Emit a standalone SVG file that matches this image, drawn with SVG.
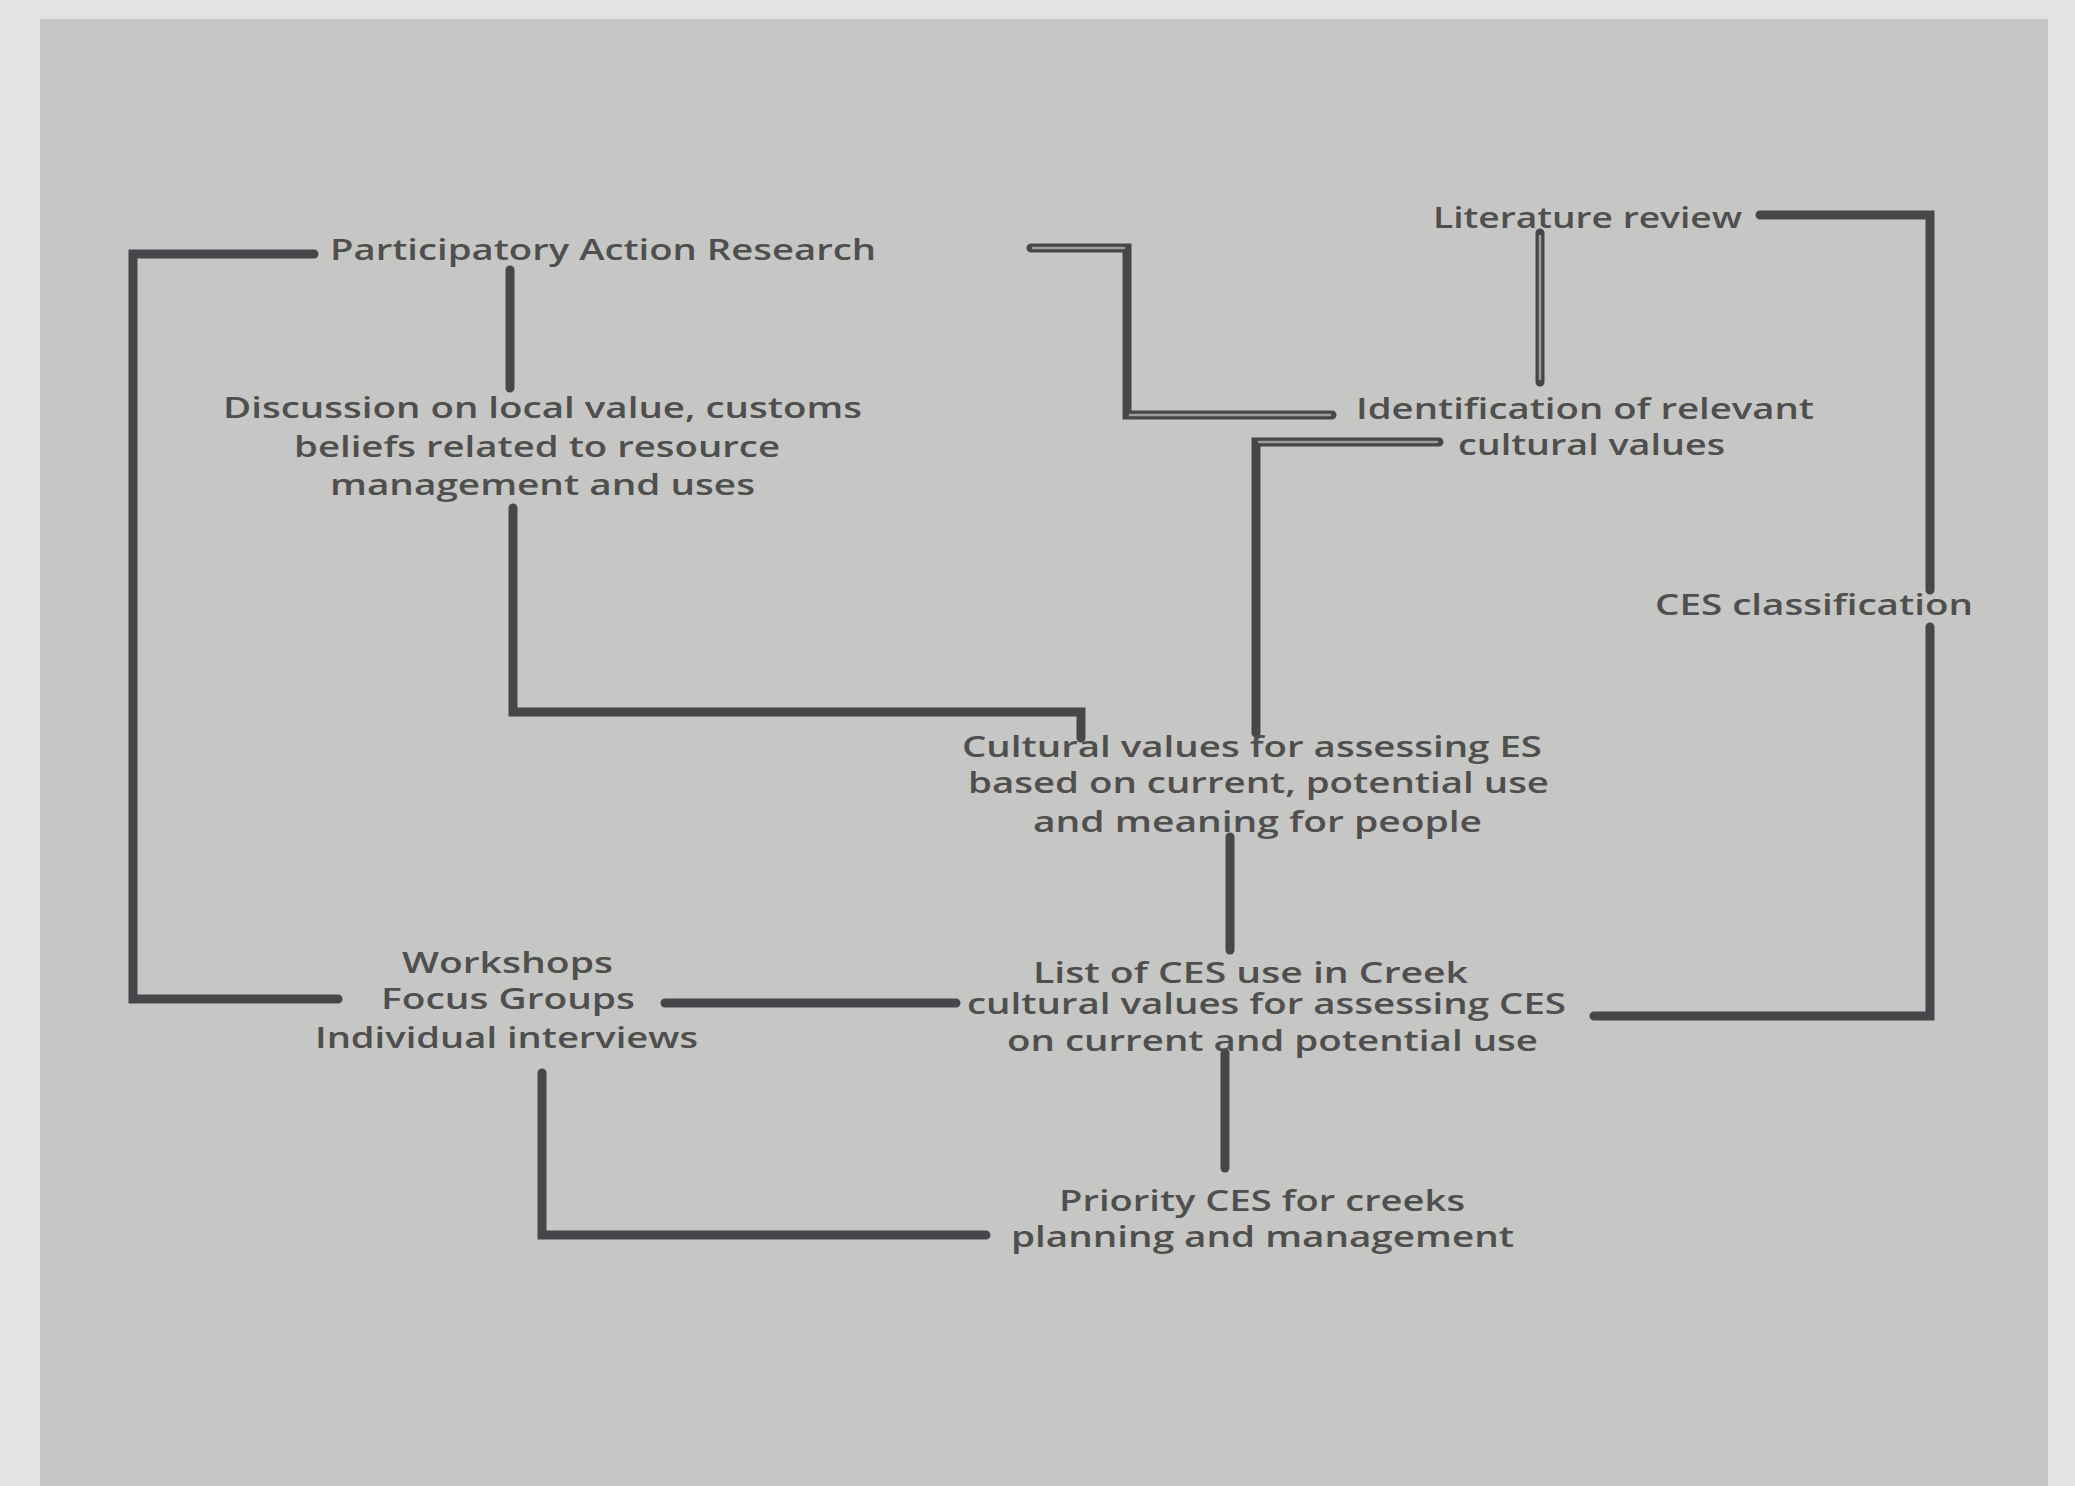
<svg xmlns="http://www.w3.org/2000/svg" width="2075" height="1486" viewBox="0 0 2075 1486">
<style>
.t{font-family:"Open Sans","Noto Sans","Liberation Sans",sans-serif;font-size:29.5px;font-weight:600;fill:#4f4f4f;}
.c{fill:none;stroke:#45474b;stroke-width:9;stroke-linecap:round;stroke-linejoin:miter;}
.h{fill:none;stroke:#9c9d9e;stroke-width:2.5;stroke-linecap:round;}
</style>
<rect x="0" y="0" width="2075" height="1486" fill="#e3e3e3"/>
<rect x="40" y="19" width="2008" height="1467" fill="#c6c6c4"/>
<g id="connectors">
<path class="c" d="M314 254 H133 V999 H338"/>
<path class="c" d="M510 270 V388"/>
<path class="c" d="M513 508 V712 H1081 V738"/>
<path class="c" d="M1760 215 H1930 V590"/>
<path class="c" d="M1930 627 V1016 H1594"/>
<path class="c" d="M1230 837 V950"/>
<path class="c" d="M1225 1053 V1168"/>
<path class="c" d="M665 1003 H956"/>
<path class="c" d="M542 1073 V1235 H986"/>
<path class="c" d="M1031 248 H1127 V415 H1332"/>
<path class="h" d="M1033 248 H1124"/>
<path class="h" d="M1130 415 H1330"/>
<path class="c" d="M1540 233 V382"/>
<path class="h" d="M1540 236 V379"/>
<path class="c" d="M1439 442 H1256 V733"/>
<path class="h" d="M1437 442 H1259"/>
</g>
<g id="n-par"><text class="t" x="330" y="260" textLength="546" lengthAdjust="spacingAndGlyphs">Participatory Action Research</text></g>
<g id="n-discussion">
<text class="t" x="223" y="418" textLength="639" lengthAdjust="spacingAndGlyphs">Discussion on local value, customs</text>
<text class="t" x="294" y="457" textLength="486" lengthAdjust="spacingAndGlyphs">beliefs related to resource</text>
<text class="t" x="330" y="495" textLength="425" lengthAdjust="spacingAndGlyphs">management and uses</text>
</g>
<g id="n-literature"><text class="t" x="1433" y="228" textLength="309" lengthAdjust="spacingAndGlyphs">Literature review</text></g>
<g id="n-identification">
<text class="t" x="1356" y="419" textLength="458" lengthAdjust="spacingAndGlyphs">Identification of relevant</text>
<text class="t" x="1458" y="455" textLength="267" lengthAdjust="spacingAndGlyphs">cultural values</text>
</g>
<g id="n-ces-class"><text class="t" x="1655" y="615" textLength="318" lengthAdjust="spacingAndGlyphs">CES classification</text></g>
<g id="n-cultural-values">
<text class="t" x="962" y="757" textLength="580" lengthAdjust="spacingAndGlyphs">Cultural values for assessing ES</text>
<text class="t" x="968" y="793" textLength="581" lengthAdjust="spacingAndGlyphs">based on current, potential use</text>
<text class="t" x="1033" y="832" textLength="449" lengthAdjust="spacingAndGlyphs">and meaning for people</text>
</g>
<g id="n-list">
<text class="t" x="1033" y="983" textLength="435" lengthAdjust="spacingAndGlyphs">List of CES use in Creek</text>
<text class="t" x="967" y="1014" textLength="599" lengthAdjust="spacingAndGlyphs">cultural values for assessing CES</text>
<text class="t" x="1007" y="1051" textLength="531" lengthAdjust="spacingAndGlyphs">on current and potential use</text>
</g>
<g id="n-workshops">
<text class="t" x="402" y="973" textLength="211" lengthAdjust="spacingAndGlyphs">Workshops</text>
<text class="t" x="381" y="1009" textLength="254" lengthAdjust="spacingAndGlyphs">Focus Groups</text>
<text class="t" x="315" y="1048" textLength="383" lengthAdjust="spacingAndGlyphs">Individual interviews</text>
</g>
<g id="n-priority">
<text class="t" x="1059" y="1211" textLength="406" lengthAdjust="spacingAndGlyphs">Priority CES for creeks</text>
<text class="t" x="1011" y="1247" textLength="503" lengthAdjust="spacingAndGlyphs">planning and management</text>
</g>
</svg>
